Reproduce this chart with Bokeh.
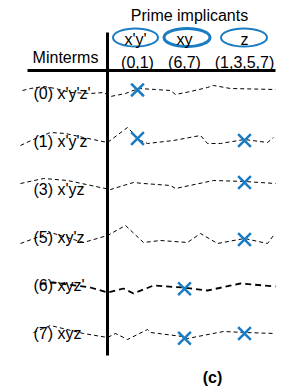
from bokeh.plotting import figure
from bokeh.models import Range1d
from bokeh.core.properties import value
from bokeh.embed import file_html
from bokeh.resources import INLINE
import numpy as np

# ---- data ----
implicants = ["x'y'", "xy", "z"]
covers = ["(0,1)", "(6,7)", "(1,3,5,7)"]
minterms = [0, 1, 3, 5, 6, 7]
terms = ["x'y'z'", "x'y'z", "x'yz", "xy'z", "xyz'", "xyz"]
# (minterm, implicant) pairs marked with an X
marks = [(0, "x'y'"), (1, "x'y'"), (1, "z"), (3, "z"), (5, "z"),
         (6, "xy"), (7, "xy"), (7, "z")]
# hand-drawn row guide lines: x positions and vertical wobble per row
wave_x = {
    0: [22, 30, 43, 55, 70, 90, 103, 110, 125, 138, 155, 170, 175, 190, 207, 213, 230, 275],
    1: [20, 35, 50, 65, 83, 107, 127, 140, 147, 173, 200, 207, 220, 244, 267, 273],
    3: [20, 43, 67, 100, 110, 133, 143, 170, 175, 213, 244, 275],
    5: [20, 50, 83, 107, 125, 143, 160, 187, 200, 217, 244, 267, 273],
    6: [40, 53, 90, 107, 123, 133, 153, 182, 207, 240, 275],
    7: [33, 50, 83, 107, 115, 127, 147, 150, 182, 187, 223, 244, 275],
}
wave_dy = {
    0: [-3, -5, -7, -5, -1, 0, -1, 3, 0, -5, -4, -3, 1, -2, -6, -8, -5, -4],
    1: [4, -3, -9, -8, -4, 1, -14, -1, 2, -1, -6, 2, 2, -2, 1, -4],
    3: [-6, -11, -9, -2, 0, -7, -6, -4, -1, -9, -8, -6],
    5: [6, -5, 5, -2, -12, 5, 3, 5, -4, 6, 1, 6, -2],
    6: [-2, -3, 2, 7, 3, 8, 0, 2, 5, -2, 1],
    7: [-1, -8, 0, 4, 0, 6, -4, -1, 3, 5, -2, -1, 0],
}

# ---- layout ----
W, H = 291, 388
BLUE = "#1a7cc2"
FONT = value("Liberation Sans")
col_x = {"x'y'": 137, "xy": 184, "z": 244}
row_y = {m: 93 + 48 * i for i, m in enumerate(minterms)}

p = figure(width=W, height=H, output_backend="svg", toolbar_location=None,
           x_range=Range1d(0, W), y_range=Range1d(H, 0),
           x_axis_type=None, y_axis_type=None, min_border=0,
           outline_line_color=None)
p.xgrid.visible = False
p.ygrid.visible = False

# title texts
p.text(x=[189], y=[15], text=["Prime implicants"], text_font=FONT,
       text_font_size="16px", text_align="center", text_baseline="middle")
p.text(x=[65], y=[57], text=["Minterms"], text_font=FONT,
       text_font_size="16px", text_align="center", text_baseline="middle")

cx = [col_x[i] for i in implicants]
p.ellipse(x=[135, 186.5, 243.5], y=[37] * 3, width=[45, 46, 46], height=[18] * 3,
          fill_color=None, line_color=BLUE, line_width=[2, 3, 2])
p.text(x=[135, 184, 244], y=[39] * 3, text=implicants, text_font=FONT,
       text_font_size="16px", text_align="center", text_baseline="middle")
p.text(x=cx, y=[62] * 3, text=covers, text_font=FONT,
       text_font_size="16px", text_align="center", text_baseline="middle")

# table rules
p.line(x=[27, 275], y=[70, 70], line_color="black", line_width=3)
p.line(x=[107, 107], y=[32, 355], line_color="black", line_width=3)

# row lines and labels
for m, t in zip(minterms, terms):
    xs = np.array(wave_x[m], dtype=float)
    ys = row_y[m] + np.array(wave_dy[m], dtype=float)
    if m == 6:
        p.line(xs, ys, line_color="black", line_width=1.8, line_dash="6 4")
    else:
        p.line(xs, ys, line_color="black", line_width=1, line_dash="4 3")
    p.text(x=[33], y=[row_y[m]], text=[f"({m}) {t}"], text_font=FONT,
           text_font_size="16px", text_align="left", text_baseline="middle")

# X marks, sitting on the row lines
mx, my = [], []
for m, imp in marks:
    x = col_x[imp]
    ys = row_y[m] + np.array(wave_dy[m], dtype=float)
    mx.append(x)
    my.append(float(np.interp(x, wave_x[m], ys)) + 1)
p.scatter(x=mx, y=my, marker="x", size=18, line_color=BLUE, line_width=2.5)

p.text(x=[212], y=[377], text=["(c)"], text_font=FONT, text_font_style="bold",
       text_font_size="16px", text_align="center", text_baseline="middle")

open("out.html", "w").write(file_html(p, INLINE))
